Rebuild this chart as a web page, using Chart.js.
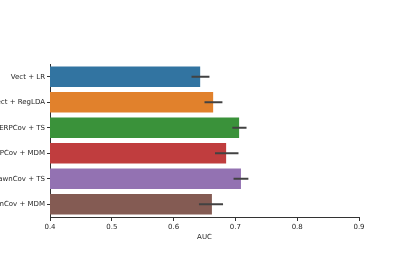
<!DOCTYPE html>
<html>
<head>
<meta charset="utf-8">
<script src="https://cdn.jsdelivr.net/npm/chart.js@4/dist/chart.umd.min.js"></script>
<style>
  html, body { margin: 0; padding: 0; background: #fff; }
  #wrap { width: 400px; height: 280px; }
</style>
</head>
<body>
<div id="wrap"><canvas id="aucChart" width="400" height="280"></canvas></div>
<script>
const pipelines = ['Vect + LR', 'Vect + RegLDA', 'ERPCov + TS', 'ERPCov + MDM', 'XdawnCov + TS', 'XdawnCov + MDM'];
const aucMean = [0.643, 0.664, 0.706, 0.685, 0.709, 0.662];
const aucLow = [0.629, 0.650, 0.695, 0.667, 0.697, 0.641];
const aucHigh = [0.658, 0.679, 0.718, 0.705, 0.721, 0.680];
const xTicks = [0.4, 0.5, 0.6, 0.7, 0.8, 0.9];

const barColors = ['#3274a1', '#e1812c', '#3a923a', '#c03d3e', '#9372b2', '#845b53'];

// draws the confidence interval lines on top of each bar
const errorBars = {
    id: 'errorBars',
    afterDatasetsDraw(chart) {
        const ctx = chart.ctx;
        const xs = chart.scales.x;
        const ys = chart.scales.y;
        ctx.save();
        ctx.strokeStyle = '#424242';
        ctx.lineWidth = 2;
        for (let i = 0; i < pipelines.length; i++) {
            const y = ys.getPixelForValue(i);
            ctx.beginPath();
            ctx.moveTo(xs.getPixelForValue(aucLow[i]), y);
            ctx.lineTo(xs.getPixelForValue(aucHigh[i]), y);
            ctx.stroke();
        }
        ctx.restore();
    }
};

const tickFont = { family: 'DejaVu Sans', size: 7 };

new Chart(document.getElementById('aucChart').getContext('2d'), {
    type: 'bar',
    data: {
        labels: pipelines,
        datasets: [{
            data: aucMean,
            backgroundColor: barColors,
            borderWidth: 0,
            barPercentage: 0.8,
            categoryPercentage: 1.0
        }]
    },
    options: {
        indexAxis: 'y',
        responsive: false,
        animation: false,
        layout: { padding: { top: 64, right: 41, left: 0, bottom: 0 } },
        plugins: {
            legend: { display: false },
            tooltip: { enabled: false }
        },
        scales: {
            x: {
                min: 0.4,
                max: 0.9,
                afterBuildTicks: function (scale) {
                    scale.ticks = xTicks.map(v => ({ value: v }));
                },
                afterFit: function (scale) { scale.height = 63; },
                grid: { drawOnChartArea: false, drawTicks: true, tickLength: 4, color: '#333' },
                border: { display: true, color: '#333', width: 1 },
                ticks: {
                    color: '#262626',
                    font: tickFont,
                    padding: 2,
                    maxRotation: 0,
                    callback: v => v.toFixed(1)
                },
                title: { display: true, text: 'AUC', color: '#262626', font: tickFont, padding: { top: 2, bottom: 39 } }
            },
            y: {
                afterFit: function (scale) { scale.width = 50; },
                grid: { offset: false, drawOnChartArea: false, drawTicks: true, tickLength: 3, color: '#333' },
                border: { display: true, color: '#333', width: 1 },
                ticks: { color: '#262626', font: tickFont, padding: 2 }
            }
        }
    },
    plugins: [errorBars]
});
</script>
</body>
</html>
